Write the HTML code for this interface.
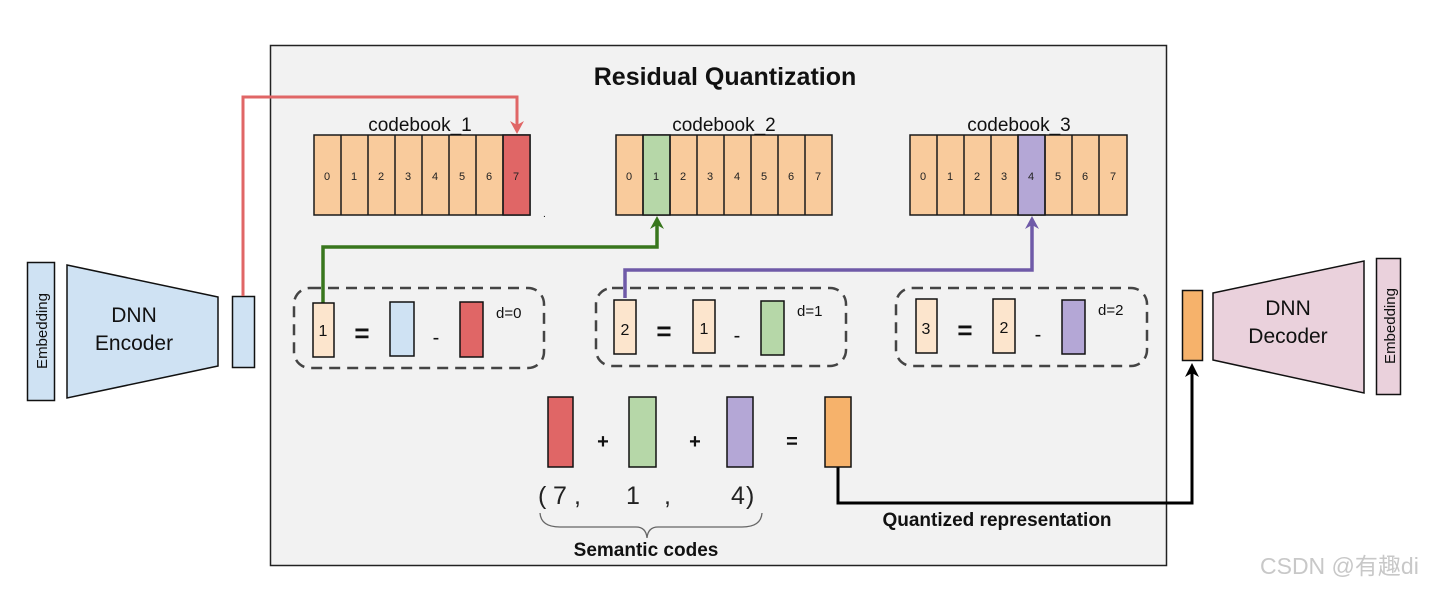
<!DOCTYPE html>
<html><head><meta charset="utf-8"><style>
html,body{margin:0;padding:0;background:#fff;}
svg{display:block;font-family:"Liberation Sans","Noto Sans CJK SC",sans-serif;}
</style></head><body>
<svg width="1440" height="591" viewBox="0 0 1440 591" xmlns="http://www.w3.org/2000/svg">
<rect x="0" y="0" width="1440" height="591" fill="#fff"/>
<rect x="270.5" y="45.5" width="896" height="520" fill="#f2f2f2" stroke="#222" stroke-width="1.5"/>
<text x="725" y="85" text-anchor="middle" font-size="25" font-weight="bold" fill="#111">Residual Quantization</text>

<g stroke="#1a1a1a" stroke-width="1.5">
<rect x="314" y="135" width="216" height="80" fill="#f9cb9c"/>
<rect x="503" y="135" width="27" height="80" fill="#e06666"/>
<path d="M341 135V215M368 135V215M395 135V215M422 135V215M449 135V215M476 135V215M503 135V215"/>
<rect x="616" y="135" width="216" height="80" fill="#f9cb9c"/>
<rect x="643" y="135" width="27" height="80" fill="#b6d7a8"/>
<path d="M643 135V215M670 135V215M697 135V215M724 135V215M751 135V215M778 135V215M805 135V215"/>
<rect x="910" y="135" width="217" height="80" fill="#f9cb9c"/>
<rect x="1018" y="135" width="27" height="80" fill="#b4a7d6"/>
<path d="M937 135V215M964 135V215M991 135V215M1018 135V215M1045 135V215M1072 135V215M1099 135V215"/>
</g>
<g font-size="11" fill="#222" text-anchor="middle">
<text x="327" y="180">0</text><text x="354" y="180">1</text><text x="381" y="180">2</text><text x="408" y="180">3</text><text x="435" y="180">4</text><text x="462" y="180">5</text><text x="489" y="180">6</text><text x="516" y="180">7</text>
<text x="629" y="180">0</text><text x="656" y="180">1</text><text x="683" y="180">2</text><text x="710" y="180">3</text><text x="737" y="180">4</text><text x="764" y="180">5</text><text x="791" y="180">6</text><text x="818" y="180">7</text>
<text x="923" y="180">0</text><text x="950" y="180">1</text><text x="977" y="180">2</text><text x="1004" y="180">3</text><text x="1031" y="180">4</text><text x="1058" y="180">5</text><text x="1085" y="180">6</text><text x="1113" y="180">7</text>
</g>
<g font-size="19" fill="#111" text-anchor="middle">
<text x="420" y="131">codebook_1</text>
<text x="724" y="131">codebook_2</text>
<text x="1019" y="131">codebook_3</text>
</g>
<text x="543" y="217" font-size="10">.</text>

<rect x="27.5" y="262.5" width="27" height="138" fill="#cfe2f3" stroke="#111" stroke-width="1.5"/>
<text transform="translate(47,331) rotate(-90)" text-anchor="middle" font-size="15" fill="#111">Embedding</text>
<polygon points="67,265 218,297 218,366 67,398" fill="#cfe2f3" stroke="#111" stroke-width="1.5"/>
<text x="134" y="322" text-anchor="middle" font-size="21" fill="#111">DNN</text>
<text x="134" y="350" text-anchor="middle" font-size="21" fill="#111">Encoder</text>
<rect x="232.5" y="296.5" width="22" height="71" fill="#cfe2f3" stroke="#111" stroke-width="1.5"/>

<rect x="1182.5" y="290.5" width="20" height="70" fill="#f6b26b" stroke="#111" stroke-width="1.5"/>
<polygon points="1213,293 1364,261 1364,393 1213,360" fill="#ead1dc" stroke="#111" stroke-width="1.5"/>
<text x="1288" y="315" text-anchor="middle" font-size="21" fill="#111">DNN</text>
<text x="1288" y="343" text-anchor="middle" font-size="21" fill="#111">Decoder</text>
<rect x="1376.5" y="258.5" width="24" height="136" fill="#ead1dc" stroke="#111" stroke-width="1.5"/>
<text transform="translate(1395,326) rotate(-90)" text-anchor="middle" font-size="15" fill="#111">Embedding</text>

<path d="M243 296V97H517V128" fill="none" stroke="#e06666" stroke-width="3"/>
<polygon points="510,121 517,134 524,121 517,125" fill="#e06666"/>
<path d="M323 303V247H657V222" fill="none" stroke="#38761d" stroke-width="3.5"/>
<polygon points="650,229 657,216 664,229 657,225" fill="#38761d"/>
<path d="M625 298V270H1032V222" fill="none" stroke="#6f5aa8" stroke-width="3.5"/>
<polygon points="1025,229 1032,216 1039,229 1032,225" fill="#6f5aa8"/>
<path d="M838 467V503H1192V370" fill="none" stroke="#000" stroke-width="3"/>
<polygon points="1185,377 1192,363 1199,377 1192,373" fill="#000"/>

<g fill="none" stroke="#444" stroke-width="2.5" stroke-dasharray="11,7">
<rect x="294" y="288" width="250" height="80" rx="16"/>
<rect x="596" y="288" width="250" height="78" rx="16"/>
<rect x="896" y="288" width="251" height="78" rx="16"/>
</g>
<g stroke="#111" stroke-width="1.5">
<rect x="313" y="303" width="21" height="54" fill="#fce5cd"/>
<rect x="390" y="302" width="24" height="54" fill="#cfe2f3"/>
<rect x="460" y="302" width="23" height="55" fill="#e06666"/>
<rect x="614" y="300" width="22" height="54" fill="#fce5cd"/>
<rect x="693" y="300" width="22" height="53" fill="#fce5cd"/>
<rect x="761" y="301" width="23" height="54" fill="#b6d7a8"/>
<rect x="916" y="299" width="21" height="54" fill="#fce5cd"/>
<rect x="993" y="299" width="22" height="54" fill="#fce5cd"/>
<rect x="1062" y="300" width="23" height="54" fill="#b4a7d6"/>
</g>
<g fill="#111" font-size="16" text-anchor="middle">
<text x="323" y="336">1</text><text x="625" y="335">2</text><text x="704" y="334">1</text>
<text x="926" y="334">3</text><text x="1004" y="333">2</text>
</g>
<g fill="#111" font-size="26" font-weight="bold" text-anchor="middle">
<text x="362" y="342">=</text><text x="664" y="340">=</text><text x="965" y="339">=</text>
</g>
<g fill="#111" font-size="20" text-anchor="middle">
<text x="436" y="344">-</text><text x="737" y="342">-</text><text x="1038" y="341">-</text>
</g>
<g fill="#111" font-size="15">
<text x="496" y="318">d=0</text><text x="797" y="316">d=1</text><text x="1098" y="315">d=2</text>
</g>

<g stroke="#111" stroke-width="1.5">
<rect x="548" y="397" width="25" height="70" fill="#e06666"/>
<rect x="629" y="397" width="27" height="70" fill="#b6d7a8"/>
<rect x="727" y="397" width="26" height="70" fill="#b4a7d6"/>
<rect x="825" y="397" width="26" height="70" fill="#f6b26b"/>
</g>
<g fill="#111" font-size="20" font-weight="bold" text-anchor="middle">
<text x="603" y="448">+</text><text x="695" y="448">+</text><text x="792" y="448">=</text>
</g>
<g fill="#222" font-size="25">
<text x="538" y="504">(</text><text x="553" y="504">7</text><text x="574" y="504">,</text>
<text x="626" y="504">1</text><text x="664" y="504">,</text>
<text x="731" y="504">4</text><text x="746" y="504">)</text>
</g>
<path d="M540 513 Q541 527 560 527 H636 Q646 527 647 538 Q648 527 658 527 H742 Q761 527 762 513" fill="none" stroke="#666" stroke-width="1.3"/>
<text x="646" y="556" text-anchor="middle" font-size="19" font-weight="bold" fill="#111">Semantic codes</text>
<text x="997" y="526" text-anchor="middle" font-size="19" font-weight="bold" fill="#111">Quantized representation</text>

<text x="1260" y="574" font-size="23" fill="#c8c8c8">CSDN @有趣di</text>
</svg>
</body></html>
